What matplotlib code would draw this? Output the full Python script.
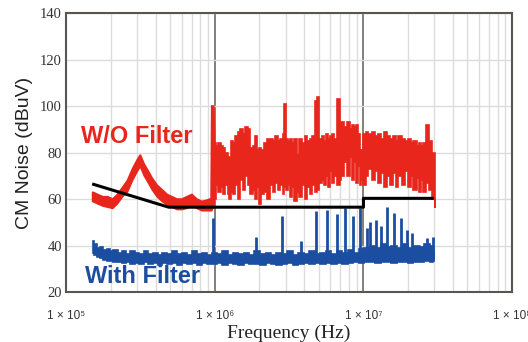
#CM noise spectrum, with and without filter, vs CISPR limit
import numpy as np
import matplotlib
matplotlib.use('Agg')
import matplotlib.pyplot as plt

#red trace (w/o filter): frequency [Hz], upper and lower edge of the noisy band [dBuV]
red_f = [1.51e5, 1.63e5, 1.77e5, 1.91e5, 2.06e5, 2.22e5, 2.4e5, 2.59e5, 2.8e5, 3.02e5,
         3.16e5, 3.36e5, 3.58e5, 3.8e5, 4.1e5, 4.43e5, 4.79e5, 5.17e5, 5.58e5, 6.03e5,
         6.5e5, 7.03e5, 7.59e5, 8.2e5, 8.85e5, 9.26e5, 9.45e5, 9.55e5, 9.85e5, 1.0e6,
         1.04e6, 1.08e6, 1.12e6, 1.16e6, 1.2e6, 1.24e6, 1.27e6, 1.3e6, 1.35e6, 1.4e6,
         1.45e6, 1.51e6, 1.57e6, 1.63e6, 1.71e6, 1.76e6, 1.85e6, 1.9e6, 1.95e6, 2.0e6,
         2.12e6, 2.2e6, 2.29e6, 2.4e6, 2.5e6, 2.59e6, 2.7e6, 2.8e6, 2.92e6, 2.97e6,
         3.05e6, 3.16e6, 3.26e6, 3.36e6, 3.5e6, 3.63e6, 3.8e6, 3.95e6, 4.1e6, 4.3e6,
         4.43e6, 4.64e6, 4.86e6, 4.95e6, 5.15e6, 5.33e6, 5.5e6, 5.67e6, 5.85e6, 6.03e6,
         6.25e6, 6.5e6, 6.81e6, 7.0e6, 7.24e6, 7.6e6, 7.94e6, 8.2e6, 8.45e6, 8.7e6,
         8.99e6, 9.3e6, 9.55e6, 9.8e6, 1.02e7, 1.05e7, 1.11e7, 1.16e7, 1.22e7, 1.28e7,
         1.34e7, 1.4e7, 1.47e7, 1.54e7, 1.61e7, 1.68e7, 1.76e7, 1.85e7, 1.94e7, 2.03e7,
         2.12e7, 2.22e7, 2.33e7, 2.4e7, 2.47e7, 2.59e7, 2.71e7, 2.84e7, 2.97e7, 3.05e7]
red_hi = [63, 62, 61, 61, 60, 62, 65, 68, 73, 77,
          79, 75, 72, 69, 66, 64, 62, 61, 60, 60,
          61, 62, 60, 59, 59.5, 60, 60, 100, 100, 84,
          83, 84, 83, 82, 80, 76, 78, 85, 84, 87,
          89, 90, 88, 91, 90, 82, 83, 87, 81, 82,
          81, 84, 86, 86, 85, 87, 85, 86, 88, 101,
          86, 85, 86, 84, 86, 79, 86, 84, 87, 85,
          86, 87, 102, 104, 86, 87, 85, 88, 86, 87,
          88, 86, 103, 92, 93, 91, 93, 90, 92, 91,
          92, 88, 80, 81, 88, 89, 88, 89, 87, 88,
          86, 89, 87, 86, 87, 85, 87, 86, 85, 86,
          84, 85, 83, 84, 83, 84, 92, 85, 80, 58]
red_lo = [59, 58, 57, 56.5, 56, 58, 61, 63, 68, 72,
          74, 70, 67, 64, 61, 59, 57.5, 56.5, 55.5, 55.5,
          56, 57, 56, 55, 55, 55, 55, 55, 57, 60,
          66, 63, 65, 62, 66, 62, 60, 63, 62, 66,
          60, 68, 64, 70, 66, 62, 64, 60, 65, 58,
          62, 63, 60, 66, 63, 67, 64, 66, 62, 65,
          64, 66, 61, 65, 59, 63, 61, 66, 60, 65,
          62, 66, 63, 64, 67, 68, 66, 70, 65, 72,
          67, 70, 66, 68, 70, 76, 70, 78, 68, 76,
          67, 74, 66, 68, 66, 70, 73, 68, 72, 67,
          71, 65, 70, 66, 71, 65, 70, 66, 72, 65,
          70, 64, 69, 63, 68, 63, 67, 64, 60, 56]

#blue trace (with filter): base band + narrow spikes
blue_f = [1.51e5, 1.58e5, 1.66e5, 1.74e5, 1.83e5, 1.92e5, 2.02e5, 2.15e5, 2.3e5, 2.45e5,
          2.6e5, 2.8e5, 3e5, 3.2e5, 3.45e5, 3.7e5, 4e5, 4.3e5, 4.6e5, 5e5,
          5.4e5, 5.8e5, 6.3e5, 6.8e5, 7.3e5, 7.9e5, 8.5e5, 9.2e5, 1.0e6, 1.08e6,
          1.17e6, 1.27e6, 1.38e6, 1.5e6, 1.63e6, 1.77e6, 1.92e6, 2.1e6, 2.3e6, 2.5e6,
          2.7e6, 2.95e6, 3.2e6, 3.5e6, 3.8e6, 4.15e6, 4.5e6, 4.9e6, 5.35e6, 5.8e6,
          6.3e6, 6.9e6, 7.5e6, 8.2e6, 8.9e6, 9.7e6, 1.06e7, 1.15e7, 1.25e7, 1.36e7,
          1.48e7, 1.61e7, 1.75e7, 1.9e7, 2.07e7, 2.25e7, 2.45e7, 2.67e7, 2.9e7, 3.0e7]
blue_hi = [42, 40.5, 39, 39.5, 38, 38.5, 37.5, 38, 37, 37.5,
           36.5, 37.5, 37, 36.5, 37.5, 36.5, 37, 36, 37, 36.5,
           37.5, 36.5, 37, 36, 37.5, 36.5, 37, 36, 37, 36.5,
           37.5, 36, 37, 36.5, 37, 36, 37.5, 36.5, 37, 36,
           37, 36.5, 37.5, 36, 37, 36.5, 37.5, 36.5, 37, 37.5,
           36.5, 37.5, 37, 38, 37, 38.5, 39, 40, 39, 40.5,
           39.5, 40, 39, 40.5, 39, 40, 39.5, 40.5, 40, 38]
blue_lo = [37, 36, 35, 34.5, 34, 33.5, 33.5, 33, 33, 32.5,
           33, 32, 32.5, 32, 33, 32, 32.5, 31.5, 32.5, 32,
           32.5, 31.5, 32.5, 32, 32.5, 31.5, 32.5, 32, 32, 32.5,
           31.5, 32.5, 32, 31.5, 32.5, 32, 32, 31.5, 32.5, 32,
           31.5, 32, 32.5, 31.5, 32, 32.5, 32, 32.5, 32, 32.5,
           32, 32.5, 32, 32.5, 33, 32.5, 33, 33, 32.5, 33,
           33, 32.5, 33, 33, 32.5, 33, 33, 33.5, 33, 33.5]
spike_f = [9.7e5, 1.9e6, 2.84e6, 3.8e6, 4.79e6, 5.67e6, 6.6e6, 7.47e6, 8.45e6, 9.55e6,
           1.05e7, 1.11e7, 1.22e7, 1.32e7, 1.44e7, 1.61e7, 1.79e7, 1.96e7, 2.12e7, 2.36e7,
           2.51e7, 2.67e7, 2.93e7]
spike_v = [52, 43.5, 52.6, 42, 55, 55.5, 53.5, 56, 52.6, 56,
           47.4, 50, 50.8, 48.3, 56.4, 53.9, 51.7, 46.6, 45.3, 40.3,
           39.4, 43.3, 43.7]

#limit line
lim_f = [1.5e5, 4.9e5, 1e7, 1e7, 2.97e7]
lim_v = [66.5, 56.5, 56.5, 60.3, 60.3]

red = '#e8261c'
blue = '#1b4ea0'


def steps(f, v):
    #spectrum-analyser style bins, edges at the geometric midpoints
    f = np.asarray(f, float)
    v = np.asarray(v, float)
    edges = np.sqrt(f[:-1] * f[1:])
    x = np.concatenate([[f[0]], np.repeat(edges, 2), [f[-1]]])
    return x, np.repeat(v, 2)


def band(ax, x, lo, hi, color):
    #closed polygon: upper edge forward, lower edge back
    x = np.asarray(x, float)
    px = np.concatenate([x, x[::-1]])
    py = np.concatenate([np.asarray(hi, float), np.asarray(lo, float)[::-1]])
    ax.fill(px, py, facecolor=color, edgecolor=color, lw=1.2, joinstyle='miter')


fig = plt.figure(figsize=(5.28, 3.42), dpi=100)
ax = fig.add_axes([0.125, 0.146, 0.845, 0.816])

ax.set_xscale('log')
ax.set_xlim(1e5, 1e8)
ax.set_ylim(20, 140)

#red: smooth part below 1 MHz, blocky spectrum above
k = 30
band(ax, red_f[:k], red_lo[:k], red_hi[:k], red)
sx, shi = steps(red_f[k-1:], red_hi[k-1:])
sx, slo = steps(red_f[k-1:], red_lo[k-1:])
band(ax, sx, slo, shi, red)

bx, bhi = steps(blue_f, blue_hi)
bx, blo = steps(blue_f, blue_lo)
band(ax, bx, blo, bhi, blue)
ax.vlines(spike_f, 34, spike_v, color=blue, lw=2)

ax.plot(lim_f, lim_v, color='black', lw=2.2, solid_capstyle='butt')

#grid
ax.set_yticks([20, 40, 60, 80, 100, 120, 140])
ax.set_xticks([1e5, 1e6, 1e7, 1e8])
ax.set_xticklabels(['1 × 10⁵', '1 × 10⁶', '1 × 10⁷', '1 × 10⁸'],
                   family=['Liberation Sans', 'DejaVu Sans'], fontsize=8.5, color='#333333')
ax.grid(True, which='major', axis='y', color='#dcdcdc', lw=1)
ax.grid(True, which='minor', axis='x', color='#dcdcdc', lw=1)
for f in [1e6, 1e7]:
    ax.axvline(f, color='#6e6862', lw=1.2, zorder=0.5)
ax.set_axisbelow(True)
ax.tick_params(axis='both', which='both', length=0)
ax.tick_params(axis='x', pad=13)
ax.tick_params(axis='y', pad=3)
for lab in ax.get_yticklabels():
    lab.set_family('Liberation Serif')
    lab.set_fontsize(10.5)
    lab.set_color('#333333')
for s in ax.spines.values():
    s.set_color('#5a5550')
    s.set_linewidth(1.5)

ax.set_xlabel('Frequency (Hz)', family='Liberation Serif', fontsize=14, color='#222222', labelpad=2)
ax.set_ylabel('CM Noise (dBuV)', family='Liberation Sans', fontsize=14, color='#222222', labelpad=5)

ax.text(1.26e5, 87, 'W/O Filter', color=red, fontsize=17, fontweight='bold',
        family='Liberation Sans', va='center')
ax.text(1.34e5, 26.5, 'With Filter', color=blue, fontsize=17, fontweight='bold',
        family='Liberation Sans', va='center')

plt.savefig('out.png', dpi=100)
